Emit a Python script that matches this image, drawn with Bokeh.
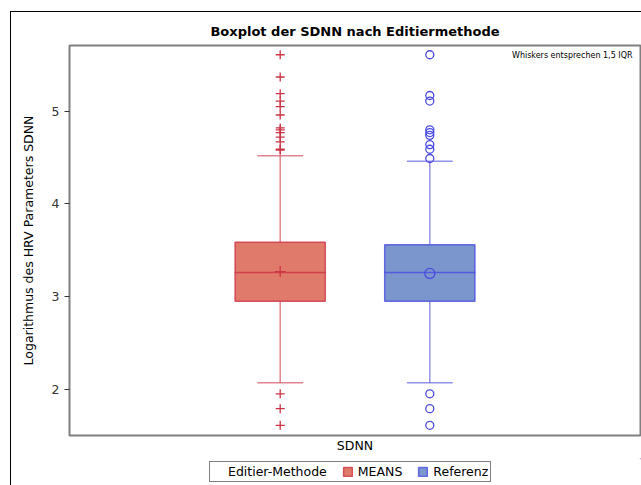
from bokeh.plotting import figure
from bokeh.models import (FactorRange, Range1d, Legend, LegendItem, ColumnDataSource,
                          Label, FixedTicker)
from bokeh.layouts import column
from bokeh.transform import dodge
from bokeh.embed import file_html
from bokeh.resources import INLINE

# ---- data ----
category = ["SDNN"]
methods = ["MEANS", "Referenz"]
q1 = [2.95, 2.95]
median = [3.26, 3.26]
q3 = [3.586, 3.558]
mean = [3.27, 3.25]
whisker_low = [2.07, 2.07]
whisker_high = [4.52, 4.46]
outliers_means = [5.61, 5.37, 5.19, 5.11, 5.05, 4.96, 4.82, 4.80, 4.77, 4.72, 4.67, 4.59, 4.58,
                  1.95, 1.79, 1.61]
outliers_ref = [5.61, 5.17, 5.11, 4.80, 4.77, 4.74, 4.64, 4.59, 4.49,
                1.95, 1.79, 1.61]
y_ticks = [2, 3, 4, 5]
legend_title = "Editier-Methode"

fills = ["#E07B6C", "#7B96CC"]
lines = ["#CC3344", "#4A4AE0"]
offsets = [-0.131, 0.131]
box_w = 0.158
cap_w = 0.079

p = figure(x_range=FactorRange(*category), y_range=Range1d(1.50, 5.71),
           width=630, height=446, output_backend="svg", toolbar_location=None,
           title="Boxplot der SDNN nach Editiermethode",
           min_border_left=58, min_border_right=1, min_border_top=33, min_border_bottom=23)

p.title.align = "center"
p.title.text_font = "DejaVu Sans"
p.title.text_font_size = "13px"
p.title.text_font_style = "bold"
p.title.text_color = "black"
p.title.standoff = 14

p.outline_line_color = "#808080"
p.outline_line_width = 2
p.xgrid.visible = False
p.ygrid.visible = False

p.yaxis.ticker = FixedTicker(ticks=y_ticks)
p.yaxis.axis_label = "Logarithmus des HRV Parameters SDNN"
p.yaxis.axis_label_text_font = "DejaVu Sans"
p.yaxis.axis_label_text_font_size = "12.5px"
p.yaxis.axis_label_text_font_style = "normal"
p.yaxis.axis_label_text_color = "black"
p.yaxis.axis_label_standoff = 13
p.yaxis.major_label_text_font = "DejaVu Sans"
p.yaxis.major_label_text_font_size = "12.5px"
p.yaxis.major_label_text_color = "#333333"
p.yaxis.axis_line_color = None
p.yaxis.major_tick_line_color = "#333333"
p.yaxis.major_tick_out = 5
p.yaxis.major_tick_in = 0
p.yaxis.minor_tick_line_color = None

p.xaxis.axis_line_color = None
p.xaxis.major_tick_line_color = None
p.xaxis.major_tick_out = 0
p.xaxis.major_tick_in = 0
p.xaxis.minor_tick_line_color = None
p.xaxis.major_label_text_font = "DejaVu Sans"
p.xaxis.major_label_text_font_size = "12.5px"
p.xaxis.major_label_text_color = "black"
p.xaxis.major_label_standoff = 2

outlier_sets = [outliers_means, outliers_ref]
for i, m in enumerate(methods):
    src = ColumnDataSource(dict(x=category, q1=[q1[i]], q3=[q3[i]], med=[median[i]],
                                mean=[mean[i]], lo=[whisker_low[i]], hi=[whisker_high[i]]))
    xd = dodge("x", offsets[i], range=p.x_range)
    p.segment(x0=xd, x1=xd, y0="q3", y1="hi", source=src, line_color=lines[i], line_alpha=0.6, line_width=1.5)
    p.segment(x0=xd, x1=xd, y0="lo", y1="q1", source=src, line_color=lines[i], line_alpha=0.6, line_width=1.5)
    p.rect(x=xd, y="hi", width=cap_w, height=0.0001, source=src,
           line_color=lines[i], line_alpha=0.6, line_width=1.5, fill_color=None)
    p.rect(x=xd, y="lo", width=cap_w, height=0.0001, source=src,
           line_color=lines[i], line_alpha=0.6, line_width=1.5, fill_color=None)
    p.vbar(x=xd, width=box_w, bottom="q1", top="q3", source=src,
           fill_color=fills[i], line_color=lines[i], line_width=1.5, line_alpha=0.8)
    p.rect(x=xd, y="med", width=box_w, height=0.0001, source=src,
           line_color=lines[i], line_width=1.5, line_alpha=0.8, fill_color=None)
    osrc = ColumnDataSource(dict(x=[category[0]] * len(outlier_sets[i]), y=outlier_sets[i]))
    if i == 0:
        p.scatter(x=xd, y="y", source=osrc, marker="cross", size=9, line_color=lines[i], line_width=1.3)
        p.scatter(x=xd, y="mean", source=src, marker="cross", size=11, line_color=lines[i], line_width=1.3)
    else:
        p.scatter(x=xd, y="y", source=osrc, marker="circle", size=8, fill_color=None,
                  line_color=lines[i], line_width=1.3)
        p.scatter(x=xd, y="mean", source=src, marker="circle", size=10, fill_color=None,
                  line_color=lines[i], line_width=1.3)

note = Label(x=0.986, y=5.647, text="Whiskers entsprechen 1,5 IQR",
             text_font="DejaVu Sans", text_font_size="8px", text_align="right", text_baseline="top",
             text_color="black")
p.add_layout(note)

# ---- legend strip (separate small figure below the chart) ----
lg = figure(width=630, height=27, output_backend="svg", toolbar_location=None,
            x_range=Range1d(0, 1), y_range=Range1d(0, 1),
            min_border=0, min_border_left=0, min_border_right=0, min_border_top=0, min_border_bottom=0)
lg.axis.visible = False
lg.grid.visible = False
lg.outline_line_color = None
items = []
ghost = lg.scatter(x=[5], y=[5], size=1, fill_alpha=0, line_alpha=0)
items.append(LegendItem(label=legend_title, renderers=[ghost]))
for i, m in enumerate(methods):
    r = lg.vbar(x=[5], width=0.1, top=[6], bottom=[5], fill_color=fills[i], line_color=lines[i],
                line_alpha=0.8, line_width=1.5)
    items.append(LegendItem(label=m, renderers=[r]))
legend = Legend(items=items, orientation="horizontal", location=(140, 3),
                label_text_font="DejaVu Sans", label_text_font_size="12.5px",
                label_text_color="black",
                border_line_color="black", border_line_width=1,
                glyph_width=11, glyph_height=11, spacing=15, padding=2, margin=0,
                label_standoff=5)
lg.add_layout(legend)

layout = column(p, lg, spacing=0, margin=(11, 0, 0, 10),
                styles={"border-left": "1px solid black", "border-top": "1px solid black"})
open("out.html", "w").write(file_html(layout, INLINE))
